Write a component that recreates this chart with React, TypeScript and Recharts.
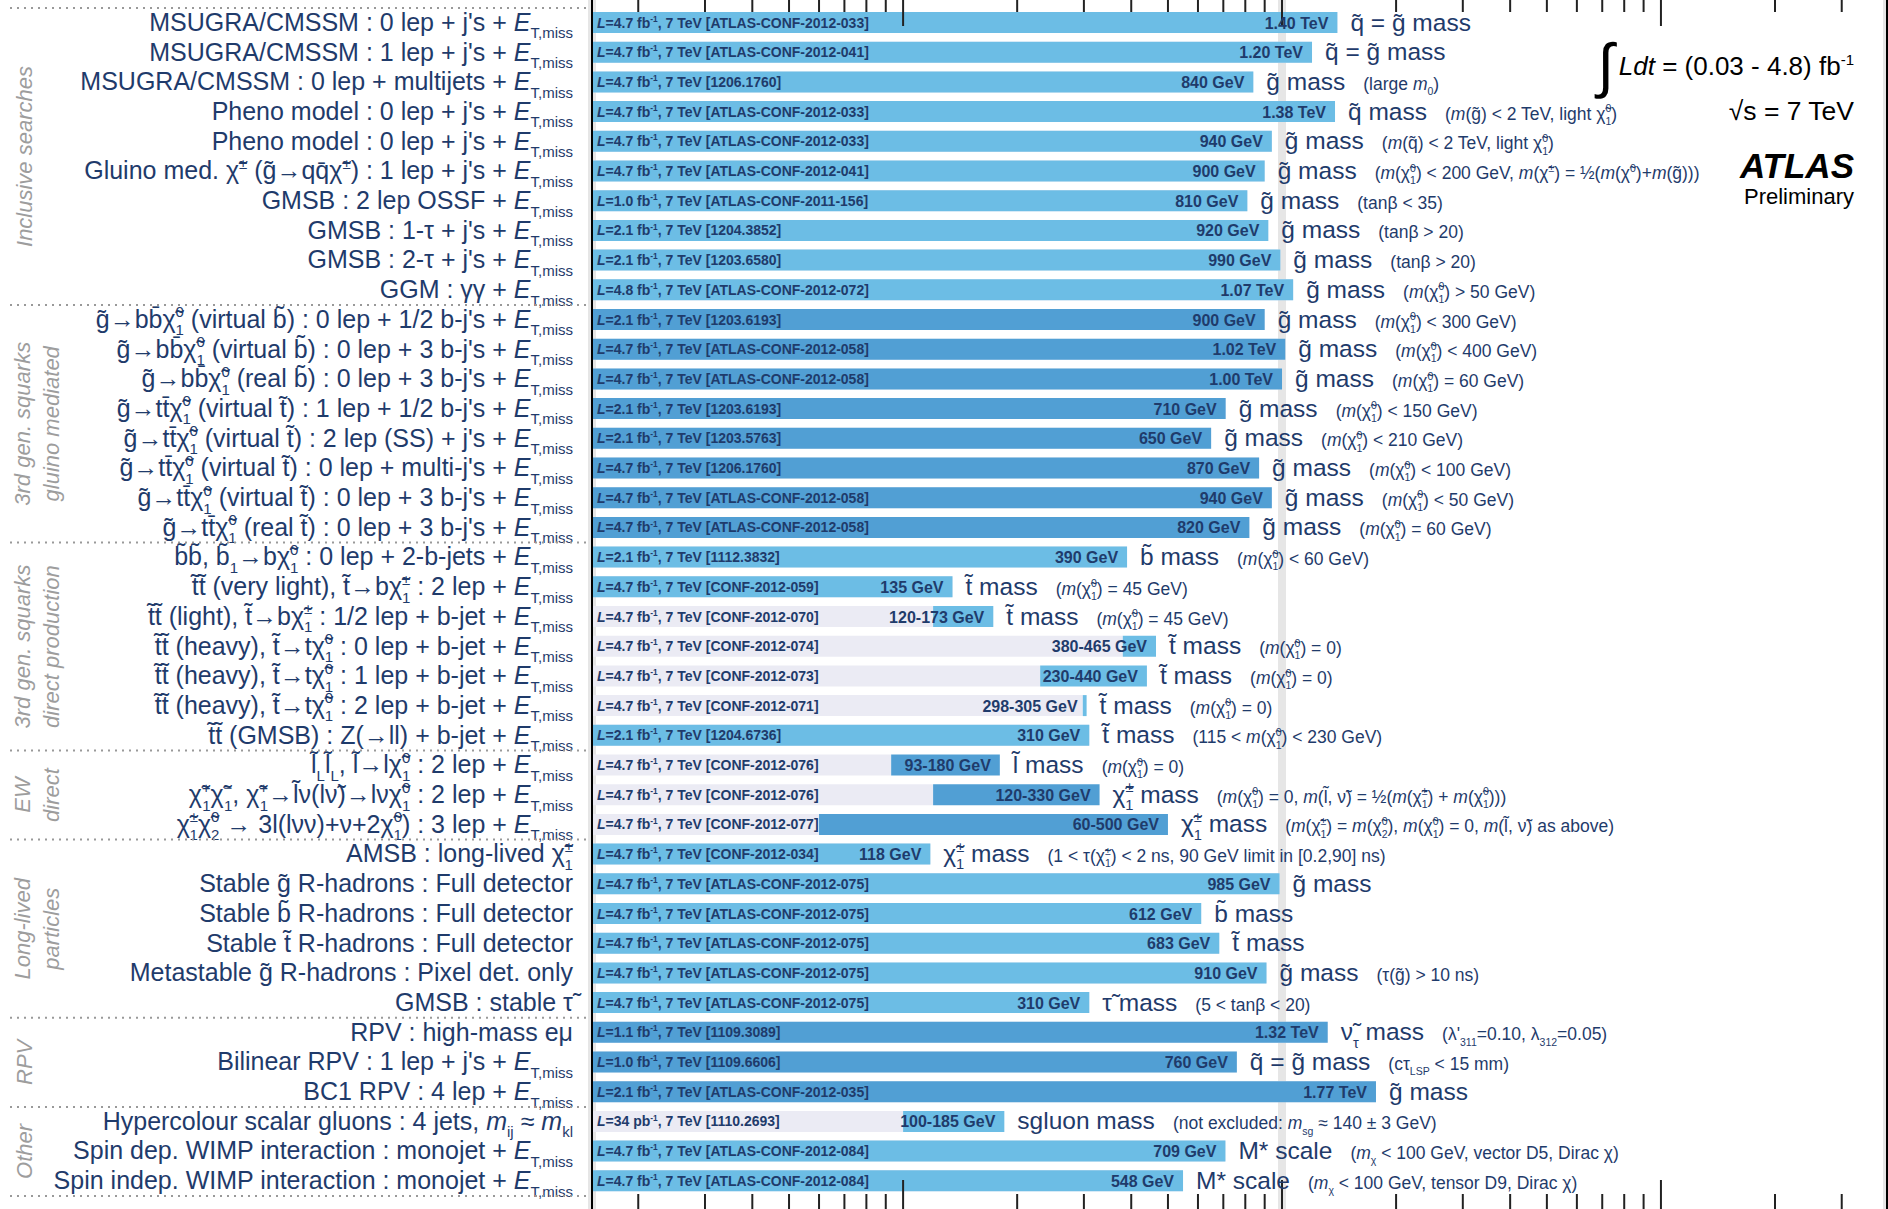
import { BarChart, Bar, XAxis, YAxis, Cell, LabelList, CartesianGrid } from "recharts"

// shorthand for the particle symbols
const g = "g\u0303"
const sq = "q\u0303"
const sb = "b\u0303"
const st = "t\u0303"
const sl = "l\u0303"
const N1 = "χ\u0303^{0}_{1}"
const C1 = "χ\u0303^{±}_{1}"
const ET = "$E$_{T,miss}"

const rowLabels = [
  `MSUGRA/CMSSM : 0 lep + j's + ${ET}`,
  `MSUGRA/CMSSM : 1 lep + j's + ${ET}`,
  `MSUGRA/CMSSM : 0 lep + multijets + ${ET}`,
  `Pheno model : 0 lep + j's + ${ET}`,
  `Pheno model : 0 lep + j's + ${ET}`,
  `Gluino med. χ\u0303^{±} (${g}→qq\u0304χ\u0303^{±}) : 1 lep + j's + ${ET}`,
  `GMSB : 2 lep OSSF + ${ET}`,
  `GMSB : 1-τ + j's + ${ET}`,
  `GMSB : 2-τ + j's + ${ET}`,
  `GGM : γγ + ${ET}`,
  `${g}→bb\u0304${N1} (virtual ${sb}) : 0 lep + 1/2 b-j's + ${ET}`,
  `${g}→bb\u0304${N1} (virtual ${sb}) : 0 lep + 3 b-j's + ${ET}`,
  `${g}→bb\u0304${N1} (real ${sb}) : 0 lep + 3 b-j's + ${ET}`,
  `${g}→tt\u0304${N1} (virtual ${st}) : 1 lep + 1/2 b-j's + ${ET}`,
  `${g}→tt\u0304${N1} (virtual ${st}) : 2 lep (SS) + j's + ${ET}`,
  `${g}→tt\u0304${N1} (virtual ${st}) : 0 lep + multi-j's + ${ET}`,
  `${g}→tt\u0304${N1} (virtual ${st}) : 0 lep + 3 b-j's + ${ET}`,
  `${g}→tt\u0304${N1} (real ${st}) : 0 lep + 3 b-j's + ${ET}`,
  `${sb}${sb}, ${sb}_{1}→b${N1} : 0 lep + 2-b-jets + ${ET}`,
  `${st}${st} (very light), ${st}→b${C1} : 2 lep + ${ET}`,
  `${st}${st} (light), ${st}→b${C1} : 1/2 lep + b-jet + ${ET}`,
  `${st}${st} (heavy), ${st}→t${N1} : 0 lep + b-jet + ${ET}`,
  `${st}${st} (heavy), ${st}→t${N1} : 1 lep + b-jet + ${ET}`,
  `${st}${st} (heavy), ${st}→t${N1} : 2 lep + b-jet + ${ET}`,
  `${st}${st} (GMSB) : Z(→ll) + b-jet + ${ET}`,
  `${sl}_{L}${sl}_{L}, ${sl}→l${N1} : 2 lep + ${ET}`,
  `χ\u0303^{+}_{1}χ\u0303^{−}_{1}, χ\u0303^{+}_{1}→${sl}ν(lν\u0303)→lν${N1} : 2 lep + ${ET}`,
  `${C1}χ\u0303^{0}_{2} → 3l(lνν)+ν+2${N1}) : 3 lep + ${ET}`,
  `AMSB : long-lived ${C1}`,
  `Stable ${g} R-hadrons : Full detector`,
  `Stable ${sb} R-hadrons : Full detector`,
  `Stable ${st} R-hadrons : Full detector`,
  `Metastable ${g} R-hadrons : Pixel det. only`,
  `GMSB : stable τ\u0303`,
  `RPV : high-mass eμ`,
  `Bilinear RPV : 1 lep + j's + ${ET}`,
  `BC1 RPV : 4 lep + ${ET}`,
  `Hypercolour scalar gluons : 4 jets, $m$_{ij} ≈ $m$_{kl}`,
  `Spin dep. WIMP interaction : monojet + ${ET}`,
  `Spin indep. WIMP interaction : monojet + ${ET}`,
]

const lumis = [
  "4.7 fb", "4.7 fb", "4.7 fb", "4.7 fb", "4.7 fb", "4.7 fb", "1.0 fb", "2.1 fb", "2.1 fb", "4.8 fb",
  "2.1 fb", "4.7 fb", "4.7 fb", "2.1 fb", "2.1 fb", "4.7 fb", "4.7 fb", "4.7 fb",
  "2.1 fb", "4.7 fb", "4.7 fb", "4.7 fb", "4.7 fb", "4.7 fb", "2.1 fb",
  "4.7 fb", "4.7 fb", "4.7 fb",
  "4.7 fb", "4.7 fb", "4.7 fb", "4.7 fb", "4.7 fb", "4.7 fb",
  "1.1 fb", "1.0 fb", "2.1 fb",
  "34 pb", "4.7 fb", "4.7 fb",
]

const refs = [
  "ATLAS-CONF-2012-033", "ATLAS-CONF-2012-041", "1206.1760", "ATLAS-CONF-2012-033", "ATLAS-CONF-2012-033",
  "ATLAS-CONF-2012-041", "ATLAS-CONF-2011-156", "1204.3852", "1203.6580", "ATLAS-CONF-2012-072",
  "1203.6193", "ATLAS-CONF-2012-058", "ATLAS-CONF-2012-058", "1203.6193", "1203.5763",
  "1206.1760", "ATLAS-CONF-2012-058", "ATLAS-CONF-2012-058",
  "1112.3832", "CONF-2012-059", "CONF-2012-070", "CONF-2012-074", "CONF-2012-073", "CONF-2012-071", "1204.6736",
  "CONF-2012-076", "CONF-2012-076", "CONF-2012-077",
  "CONF-2012-034", "ATLAS-CONF-2012-075", "ATLAS-CONF-2012-075", "ATLAS-CONF-2012-075", "ATLAS-CONF-2012-075", "ATLAS-CONF-2012-075",
  "1109.3089", "1109.6606", "ATLAS-CONF-2012-035",
  "1110.2693", "ATLAS-CONF-2012-084", "ATLAS-CONF-2012-084",
]

// excluded mass ranges in GeV (low edge only for range limits)
const lows: (number | null)[] = [
  null, null, null, null, null, null, null, null, null, null,
  null, null, null, null, null, null, null, null,
  null, null, 120, 380, 230, 298, null,
  93, 120, 60,
  null, null, null, null, null, null,
  null, null, null,
  100, null, null,
]
const highs = [
  1400, 1200, 840, 1380, 940, 900, 810, 920, 990, 1070,
  900, 1020, 1000, 710, 650, 870, 940, 820,
  390, 135, 173, 465, 440, 305, 310,
  180, 330, 500,
  118, 985, 612, 683, 910, 310,
  1320, 760, 1770,
  185, 709, 548,
]
const valueLabels = [
  "1.40 TeV", "1.20 TeV", "840 GeV", "1.38 TeV", "940 GeV", "900 GeV", "810 GeV", "920 GeV", "990 GeV", "1.07 TeV",
  "900 GeV", "1.02 TeV", "1.00 TeV", "710 GeV", "650 GeV", "870 GeV", "940 GeV", "820 GeV",
  "390 GeV", "135 GeV", "120-173 GeV", "380-465 GeV", "230-440 GeV", "298-305 GeV", "310 GeV",
  "93-180 GeV", "120-330 GeV", "60-500 GeV",
  "118 GeV", "985 GeV", "612 GeV", "683 GeV", "910 GeV", "310 GeV",
  "1.32 TeV", "760 GeV", "1.77 TeV",
  "100-185 GeV", "709 GeV", "548 GeV",
]
const massLabels = [
  `${sq} = ${g} mass`, `${sq} = ${g} mass`, `${g} mass`, `${sq} mass`, `${g} mass`,
  `${g} mass`, `${g} mass`, `${g} mass`, `${g} mass`, `${g} mass`,
  `${g} mass`, `${g} mass`, `${g} mass`, `${g} mass`, `${g} mass`, `${g} mass`, `${g} mass`, `${g} mass`,
  `${sb} mass`, `${st} mass`, `${st} mass`, `${st} mass`, `${st} mass`, `${st} mass`, `${st} mass`,
  `${sl} mass`, `${C1} mass`, `${C1} mass`,
  `${C1} mass`, `${g} mass`, `${sb} mass`, `${st} mass`, `${g} mass`, `τ\u0303 mass`,
  `ν\u0303_{τ} mass`, `${sq} = ${g} mass`, `${g} mass`,
  "sgluon mass", "M* scale", "M* scale",
]
const conditions = [
  "", "", "(large $m$_{0})",
  `($m$(${g}) < 2 TeV, light ${N1})`,
  `($m$(${sq}) < 2 TeV, light ${N1})`,
  `($m$(${N1}) < 200 GeV, $m$(χ\u0303^{±}) = ½($m$(χ\u0303^{0})+$m$(${g})))`,
  "(tanβ < 35)", "(tanβ > 20)", "(tanβ > 20)",
  `($m$(${N1}) > 50 GeV)`,
  `($m$(${N1}) < 300 GeV)`,
  `($m$(${N1}) < 400 GeV)`,
  `($m$(${N1}) = 60 GeV)`,
  `($m$(${N1}) < 150 GeV)`,
  `($m$(${N1}) < 210 GeV)`,
  `($m$(${N1}) < 100 GeV)`,
  `($m$(${N1}) < 50 GeV)`,
  `($m$(${N1}) = 60 GeV)`,
  `($m$(${N1}) < 60 GeV)`,
  `($m$(${N1}) = 45 GeV)`,
  `($m$(${N1}) = 45 GeV)`,
  `($m$(${N1}) = 0)`,
  `($m$(${N1}) = 0)`,
  `($m$(${N1}) = 0)`,
  `(115 < $m$(${N1}) < 230 GeV)`,
  `($m$(${N1}) = 0)`,
  `($m$(${N1}) = 0, $m$(${sl}, ν\u0303) = ½($m$(${C1}) + $m$(${N1})))`,
  `($m$(${C1}) = $m$(χ\u0303^{0}_{2}), $m$(${N1}) = 0, $m$(${sl}, ν\u0303) as above)`,
  `(1 < τ(${C1}) < 2 ns, 90 GeV limit in [0.2,90] ns)`,
  "", "", "",
  `(τ(${g}) > 10 ns)`,
  "(5 < tanβ < 20)",
  "(λ'_{311}=0.10, λ_{312}=0.05)",
  "(cτ_{LSP} < 15 mm)",
  "",
  "(not excluded: $m$_{sg} ≈ 140 ± 3 GeV)",
  "($m$_{χ} < 100 GeV, vector D5, Dirac χ)",
  "($m$_{χ} < 100 GeV, tensor D9, Dirac χ)",
]

const groups = [
  { lines: ["Inclusive searches"], count: 10 },
  { lines: ["3rd gen. squarks", "gluino mediated"], count: 8 },
  { lines: ["3rd gen. squarks", "direct production"], count: 7 },
  { lines: ["EW", "direct"], count: 3 },
  { lines: ["Long-lived", "particles"], count: 6 },
  { lines: ["RPV"], count: 3 },
  { lines: ["Other"], count: 3 },
]
const darkGroups = [1, 3, 5]

const minorTicks = [20, 30, 40, 50, 60, 70, 80, 90, 200, 300, 400, 500, 600, 700, 800, 900,
  2000, 3000, 4000, 5000, 6000, 7000, 8000, 9000, 20000, 30000]
const majorTicks = [100, 1000, 10000]

const X_MIN = 15.1
const X_MAX = 39500

const FONT = '"Liberation Sans", Arial, Helvetica, sans-serif'
const NAVY = "#1f3b6b"
const LIGHT = "#6cbde5"
const DARK = "#519fd4"
const LAVENDER = "#ebebf4"

// layout
const CHART_TOP = -20
const CHART_H = 1245
const M_TOP = 15
const M_BOTTOM = 15
const PAD_TOP = 13
const PAD_BOTTOM = 14
const ROW_STEP = (CHART_H - M_TOP - M_BOTTOM - PAD_TOP - PAD_BOTTOM) / rowLabels.length

const groupStart: number[] = []
const groupOf: number[] = []
groups.forEach((gr, k) => {
  groupStart.push(groupOf.length)
  for (let j = 0; j < gr.count; j++) groupOf.push(k)
})

const rows = rowLabels.map((_, i) => ({
  id: i,
  lav: [X_MIN, lows[i] ?? highs[i]],
  exc: [lows[i] ?? X_MIN, highs[i]],
}))

// tiny markup: $..$ italic, _{..} subscript, ^{..} superscript
type Seg = { t: string; it: boolean; sub?: boolean; sup?: boolean }
function parse(s: string): Seg[] {
  const out: Seg[] = []
  let buf = ""
  let it = false
  let i = 0
  const flush = () => {
    if (buf) out.push({ t: buf, it })
    buf = ""
  }
  while (i < s.length) {
    const c = s[i]
    if (c === "$") {
      flush()
      it = !it
      i++
    } else if ((c === "_" || c === "^") && s[i + 1] === "{") {
      flush()
      const j = s.indexOf("}", i + 2)
      out.push({ t: s.slice(i + 2, j), it, sub: c === "_", sup: c === "^" })
      i = j + 1
    } else {
      buf += c
      i++
    }
  }
  flush()
  return out
}

function rich(s: string, fs: number) {
  const segs = parse(s)
  let shift = 0
  let supW = 0
  return segs.map((sg, k) => {
    const target = sg.sub ? fs * 0.3 : sg.sup ? -fs * 0.42 : 0
    const dy = target - shift
    shift = target
    let dx = 0
    if (sg.sub && k > 0 && segs[k - 1].sup) dx = -supW
    supW = sg.sup ? sg.t.length * fs * 0.6 * 0.56 : 0
    return (
      <tspan
        key={k}
        dy={dy || undefined}
        dx={dx || undefined}
        fontSize={sg.sub || sg.sup ? fs * 0.6 : undefined}
        fontStyle={sg.it ? "italic" : undefined}
      >
        {sg.t}
      </tspan>
    )
  })
}

const RowTick = (p: any) => {
  const i = Number(p.payload.value)
  const y = p.y
  const k = groupOf[i]
  const first = groupStart[k] === i
  const last = i === rowLabels.length - 1
  const gr = groups[k]
  const gy = y + ((gr.count - 1) * ROW_STEP) / 2
  const lineX = gr.lines.length === 1 ? [24] : [22, 51]
  return (
    <g fontFamily={FONT}>
      <text x={p.x} y={y + 8} textAnchor="end" fontSize={25} fill={NAVY}>
        {rich(rowLabels[i], 25)}
      </text>
      {first && (
        <line x1={10} x2={590} y1={y - ROW_STEP / 2} y2={y - ROW_STEP / 2} stroke="#999" strokeWidth={2} strokeDasharray="2 5" />
      )}
      {last && (
        <line x1={10} x2={590} y1={y + ROW_STEP / 2} y2={y + ROW_STEP / 2} stroke="#999" strokeWidth={2} strokeDasharray="2 5" />
      )}
      {first &&
        gr.lines.map((ln, j) => (
          <text
            key={j}
            x={lineX[j]}
            y={gy}
            transform={`rotate(-90 ${lineX[j]} ${gy})`}
            textAnchor="middle"
            dy="0.35em"
            fontSize={22}
            fontStyle="italic"
            fill="#9d9d9d"
          >
            {ln}
          </text>
        ))}
    </g>
  )
}

const RefLabel = (p: any) => {
  const i = p.index
  const cy = p.y + p.height / 2
  return (
    <text x={p.x + 5} y={cy + 5} fontSize={14} fontWeight="bold" fill={NAVY} fontFamily={FONT}>
      {rich(`$L$=${lumis[i]}^{-1}, 7 TeV [${refs[i]}]`, 14)}
    </text>
  )
}

const ExcLabel = (p: any) => {
  const i = p.index
  const end = p.x + p.width
  const cy = p.y + p.height / 2
  return (
    <g fontFamily={FONT} fill={NAVY}>
      <text x={end - 9} y={cy + 6} textAnchor="end" fontSize={16} fontWeight="bold">
        {valueLabels[i]}
      </text>
      <text x={end + 13} y={cy + 8} fontSize={24.5}>
        {rich(massLabels[i], 24.5)}
        {conditions[i] && (
          <tspan dx={18} fontSize={17.5}>
            {rich(conditions[i], 17.5)}
          </tspan>
        )}
      </text>
    </g>
  )
}

const EmptyTick = () => <g />

const xAxisCommon = {
  type: "number" as const,
  scale: "log" as const,
  domain: [X_MIN, X_MAX],
  allowDataOverflow: true,
  tick: EmptyTick,
  interval: 0,
  axisLine: false,
  height: 1,
  mirror: true,
}

export default function App() {
  return (
    <div style={{ position: "absolute", left: 0, top: 0, width: 1888, height: 1209, overflow: "hidden", background: "#fff" }}>
      <div style={{ position: "absolute", left: 0, top: CHART_TOP }}>
        <BarChart
          width={1888}
          height={CHART_H}
          data={rows}
          layout="vertical"
          margin={{ top: M_TOP, right: 0, bottom: M_BOTTOM, left: 0 }}
        >
          <XAxis xAxisId="grid" orientation="top" {...xAxisCommon} ticks={[1000]} tickLine={false} />
          <CartesianGrid xAxisId="grid" yAxisId="a" horizontal={false} stroke="#e6e6e6" strokeWidth={8} />
          <XAxis xAxisId="tmin" orientation="top" {...xAxisCommon} ticks={minorTicks} tickSize={15} tickLine={{ stroke: "#222", strokeWidth: 2 }} />
          <XAxis xAxisId="tmaj" orientation="top" {...xAxisCommon} ticks={majorTicks} tickSize={30} tickLine={{ stroke: "#222", strokeWidth: 2 }} />
          <XAxis xAxisId="bmin" orientation="bottom" {...xAxisCommon} ticks={minorTicks} tickSize={15} tickLine={{ stroke: "#222", strokeWidth: 2 }} />
          <XAxis xAxisId="bmaj" orientation="bottom" {...xAxisCommon} ticks={majorTicks} tickSize={30} tickLine={{ stroke: "#222", strokeWidth: 2 }} />
          <YAxis
            yAxisId="a"
            type="category"
            dataKey="id"
            width={592}
            interval={0}
            padding={{ top: PAD_TOP, bottom: PAD_BOTTOM }}
            tickLine={false}
            tickSize={0}
            tickMargin={19}
            axisLine={{ stroke: "#000", strokeWidth: 2 }}
            tick={RowTick}
          />
          <YAxis yAxisId="b" type="category" dataKey="id" hide padding={{ top: PAD_TOP, bottom: PAD_BOTTOM }} />
          <YAxis
            yAxisId="r"
            orientation="right"
            type="category"
            dataKey="id"
            width={1}
            tick={false}
            tickLine={false}
            axisLine={{ stroke: "#000", strokeWidth: 2 }}
            padding={{ top: PAD_TOP, bottom: PAD_BOTTOM }}
          />
          <Bar dataKey="lav" xAxisId="tmin" yAxisId="a" barSize={21} fill={LAVENDER} isAnimationActive={false}>
            <LabelList dataKey="lav" content={RefLabel} />
          </Bar>
          <Bar dataKey="exc" xAxisId="tmin" yAxisId="b" barSize={21} isAnimationActive={false}>
            {rows.map((r) => (
              <Cell key={r.id} fill={darkGroups.includes(groupOf[r.id]) ? DARK : LIGHT} />
            ))}
            <LabelList dataKey="exc" content={ExcLabel} />
          </Bar>
        </BarChart>
      </div>
      <svg style={{ position: "absolute", left: 0, top: 0, pointerEvents: "none" }} width={1888} height={1209}>
        <g fontFamily={FONT} fill="#000">
          <text x={1614} y={86} fontSize={60} textAnchor="end">∫</text>
          <text x={1854} y={75} fontSize={26} textAnchor="end">
            <tspan fontStyle="italic">Ldt</tspan> = (0.03 - 4.8) fb<tspan fontSize={15} dy={-10}>-1</tspan>
          </text>
          <text x={1854} y={120} fontSize={26.5} textAnchor="end">√s = 7 TeV</text>
          <text x={1854} y={178} fontSize={35} fontWeight="bold" fontStyle="italic" textAnchor="end">ATLAS</text>
          <text x={1854} y={204} fontSize={22} textAnchor="end">Preliminary</text>
        </g>
      </svg>
    </div>
  )
}
